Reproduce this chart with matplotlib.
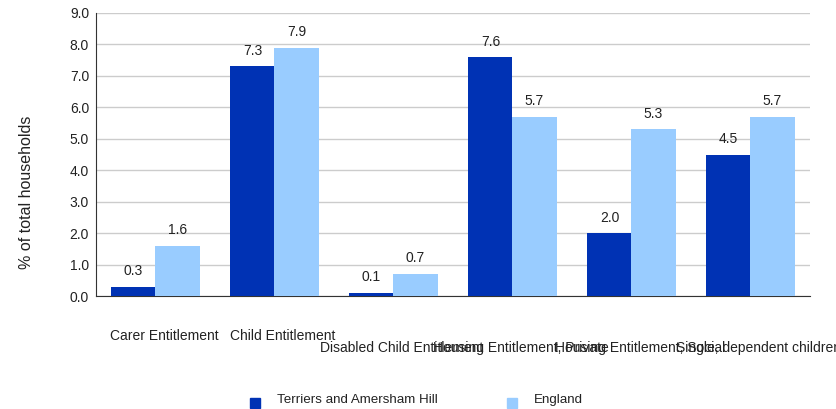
import matplotlib
matplotlib.use("Agg")
import matplotlib.pyplot as plt
from matplotlib.patches import Rectangle
import numpy as np

categories = ["Carer Entitlement", "Child Entitlement", "Disabled Child Entitlement",
              "Housing Entitlement, Private", "Housing Entitlement, Social",
              "Single, dependent children"]
series_names = ["Terriers and Amersham Hill", "England"]
terriers = [0.3, 7.3, 0.1, 7.6, 2.0, 4.5]
england = [1.6, 7.9, 0.7, 5.7, 5.3, 5.7]
yticks = [0.0, 1.0, 2.0, 3.0, 4.0, 5.0, 6.0, 7.0, 8.0, 9.0]

plt.rcParams['font.family'] = ['Liberation Sans', 'DejaVu Sans']
c1, c2 = "#0032b4", "#99ccff"
tc = "#222222"

W, H = 837, 409
fig = plt.figure(figsize=(W/100, H/100), dpi=100)
ax = fig.add_axes([96/W, 1-296/H, (810-96)/W, (296-13)/H])
x = np.arange(len(categories))
w = 0.37
b1 = ax.bar(x - w/2, terriers, w, color=c1, label=series_names[0], zorder=3)
b2 = ax.bar(x + w/2, england, w, color=c2, label=series_names[1], zorder=3)
for bars, vals in ((b1, terriers), (b2, england)):
    for r, v in zip(bars, vals):
        ax.text(r.get_x() + r.get_width()/2, v + 0.27, f"{v:.1f}", ha="center",
                va="bottom", fontsize=10, color=tc)
ax.set_xlim(-0.5, len(categories) - 0.5)
ax.set_ylim(0, 9)
ax.set_yticks(yticks)
ax.set_yticklabels([f"{t:.1f}" for t in yticks], fontsize=10, color=tc)
ax.tick_params(axis="y", length=0, pad=5)
ax.set_xticks([])
ax.grid(axis="y", color="#cccccc", linewidth=1, zorder=0)
for s in ("top", "right"):
    ax.spines[s].set_visible(False)
ax.spines["left"].set_color("#333333")
ax.spines["bottom"].set_color("#333333")
ax.set_ylabel("% of total households", fontsize=11.5, color=tc)
ax.yaxis.set_label_coords((34-96)/714, (296-192)/283)

# staggered category labels
blend = matplotlib.transforms.blended_transform_factory(ax.transData, fig.transFigure)
for i, c in enumerate(categories):
    ypix = 336 if i < 2 else 348
    ax.text(i + 0.07, 1 - ypix/H, c, transform=blend, ha="center", va="center",
            fontsize=10, color=tc)

# legend drawn manually
for xm, col, name in ((250, c1, series_names[0]), (507, c2, series_names[1])):
    fig.patches.append(Rectangle((xm/W, 1-408/H), 10/W, 10/H, transform=fig.transFigure,
                                 color=col, figure=fig))
    fig.text((xm+27)/W, 1-400/H, name, ha="left", va="center", fontsize=9.6, color=tc)

fig.savefig("out.png", dpi=100)
